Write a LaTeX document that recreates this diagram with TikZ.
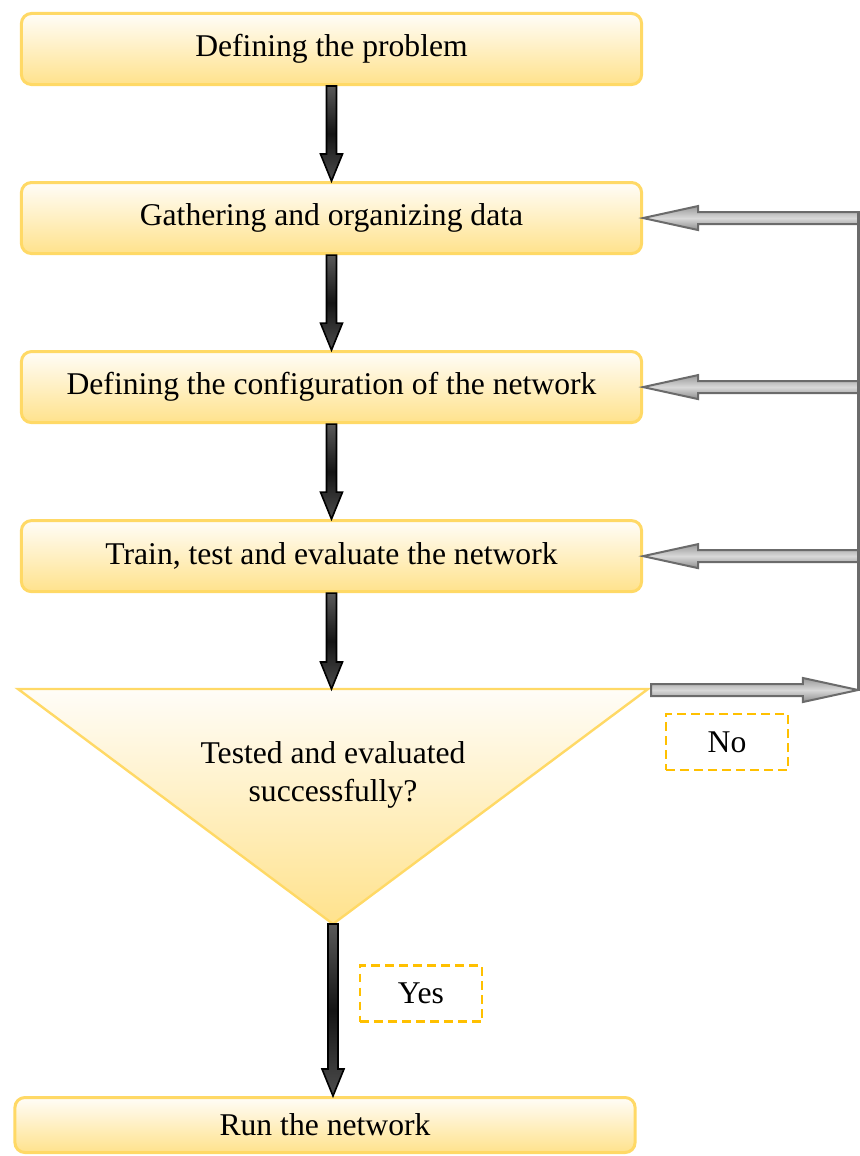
\documentclass[tikz,border=0pt]{standalone}
\usepackage{fontspec}
\setmainfont{Liberation Serif}
\usepackage{tikz}
\usetikzlibrary{positioning, calc}

\definecolor{boxline}{HTML}{FFD966}
\definecolor{boxtop}{HTML}{FFFDF8}
\definecolor{boxbot}{HTML}{FFE28C}
\definecolor{lblline}{HTML}{FFC000}
\definecolor{loopline}{HTML}{6B6B6B}

% block arrow: style, from, to, shaft half width, head half width, head length
\newcommand{\blockarrow}[6]{%
  \coordinate (hb) at ($(#3)!#6!(#2)$);
  \path[#1] ($(#2)!#4!90:(#3)$) -- ($(hb)!#4!90:(#3)$) -- ($(hb)!#5!90:(#3)$) -- (#3)
    -- ($(hb)!#5!-90:(#3)$) -- ($(hb)!#4!-90:(#3)$) -- ($(#2)!#4!-90:(#3)$) -- cycle;}

\begin{document}
\begin{tikzpicture}[
  x=0.025cm, y=-0.025cm,
  stepbox/.style={rectangle, rounded corners=0.25cm, draw=boxline, line width=0.075cm,
    top color=boxtop, bottom color=boxbot, minimum width=15.5cm, minimum height=1.775cm,
    font=\fontsize{22.5}{26.5}\selectfont},
  lblbox/.style={rectangle, draw=lblline, dash pattern=on 0.22cm off 0.13cm, line width=0.065cm,
    minimum width=3.05cm, minimum height=1.4cm, font=\fontsize{22.5}{26.5}\selectfont},
  blkarrow/.style={draw=black, line width=0.04cm, line join=miter,
    top color=black!65, bottom color=black!70, middle color=black!92},
  gryarrow/.style={draw=loopline, line width=0.05cm, line join=miter,
    top color=black!40, bottom color=black!45, middle color=black!15},
  node distance=2.375cm
]
\useasboundingbox (0,0) rectangle (860,1156);

% Nodes
\node[stepbox] (P) at (331.5,49) {Defining the problem};
\node[stepbox, below=of P] (G) {Gathering and organizing data};
\node[stepbox, below=of G] (N) {Defining the configuration of the network};
\node[stepbox, below=of N] (T) {Train, test and evaluate the network};

% Decision triangle
\coordinate (Q1) at (18,689);
\coordinate (Q2) at (648,689);
\coordinate (Q3) at (333,924);
\shade[draw=boxline, line width=0.06cm, top color=boxtop, bottom color=boxbot]
  (Q1) -- (Q2) -- (Q3) -- cycle;
\node[align=center, font=\fontsize{22.5}{26.5}\selectfont] (Q) at (333,775)
  {Tested and evaluated\\successfully?};

\node[stepbox, minimum height=1.375cm] (R) at (325,1125) {Run the network};

\node[lblbox] (no) at (727,742) {No};
\node[lblbox] (yes) at (421,993.5) {Yes};

% Loop back line
\coordinate (L1) at (858,211);
\coordinate (L2) at (858,691);
\coordinate (Qin) at (T.south |- Q1);
\coordinate (Qout) at (651,690);
\coordinate (Rin) at (Q3 |- R.north);

% Connections
\blockarrow{blkarrow}{P.south}{G.north}{0.125cm}{0.275cm}{0.675cm}
\blockarrow{blkarrow}{G.south}{N.north}{0.125cm}{0.275cm}{0.675cm}
\blockarrow{blkarrow}{N.south}{T.north}{0.125cm}{0.275cm}{0.675cm}
\blockarrow{blkarrow}{T.south}{Qin}{0.125cm}{0.275cm}{0.675cm}
\blockarrow{blkarrow}{Q3}{Rin}{0.125cm}{0.275cm}{0.675cm}

\draw[loopline, line width=0.075cm] (L1) -- (L2);
\blockarrow{gryarrow}{Qout}{Qout -| L1}{0.15cm}{0.3cm}{1.375cm}
\blockarrow{gryarrow}{G.east -| L1}{G.east}{0.15cm}{0.3cm}{1.375cm}
\blockarrow{gryarrow}{N.east -| L1}{N.east}{0.15cm}{0.3cm}{1.375cm}
\blockarrow{gryarrow}{T.east -| L1}{T.east}{0.15cm}{0.3cm}{1.375cm}

\end{tikzpicture}
\end{document}
